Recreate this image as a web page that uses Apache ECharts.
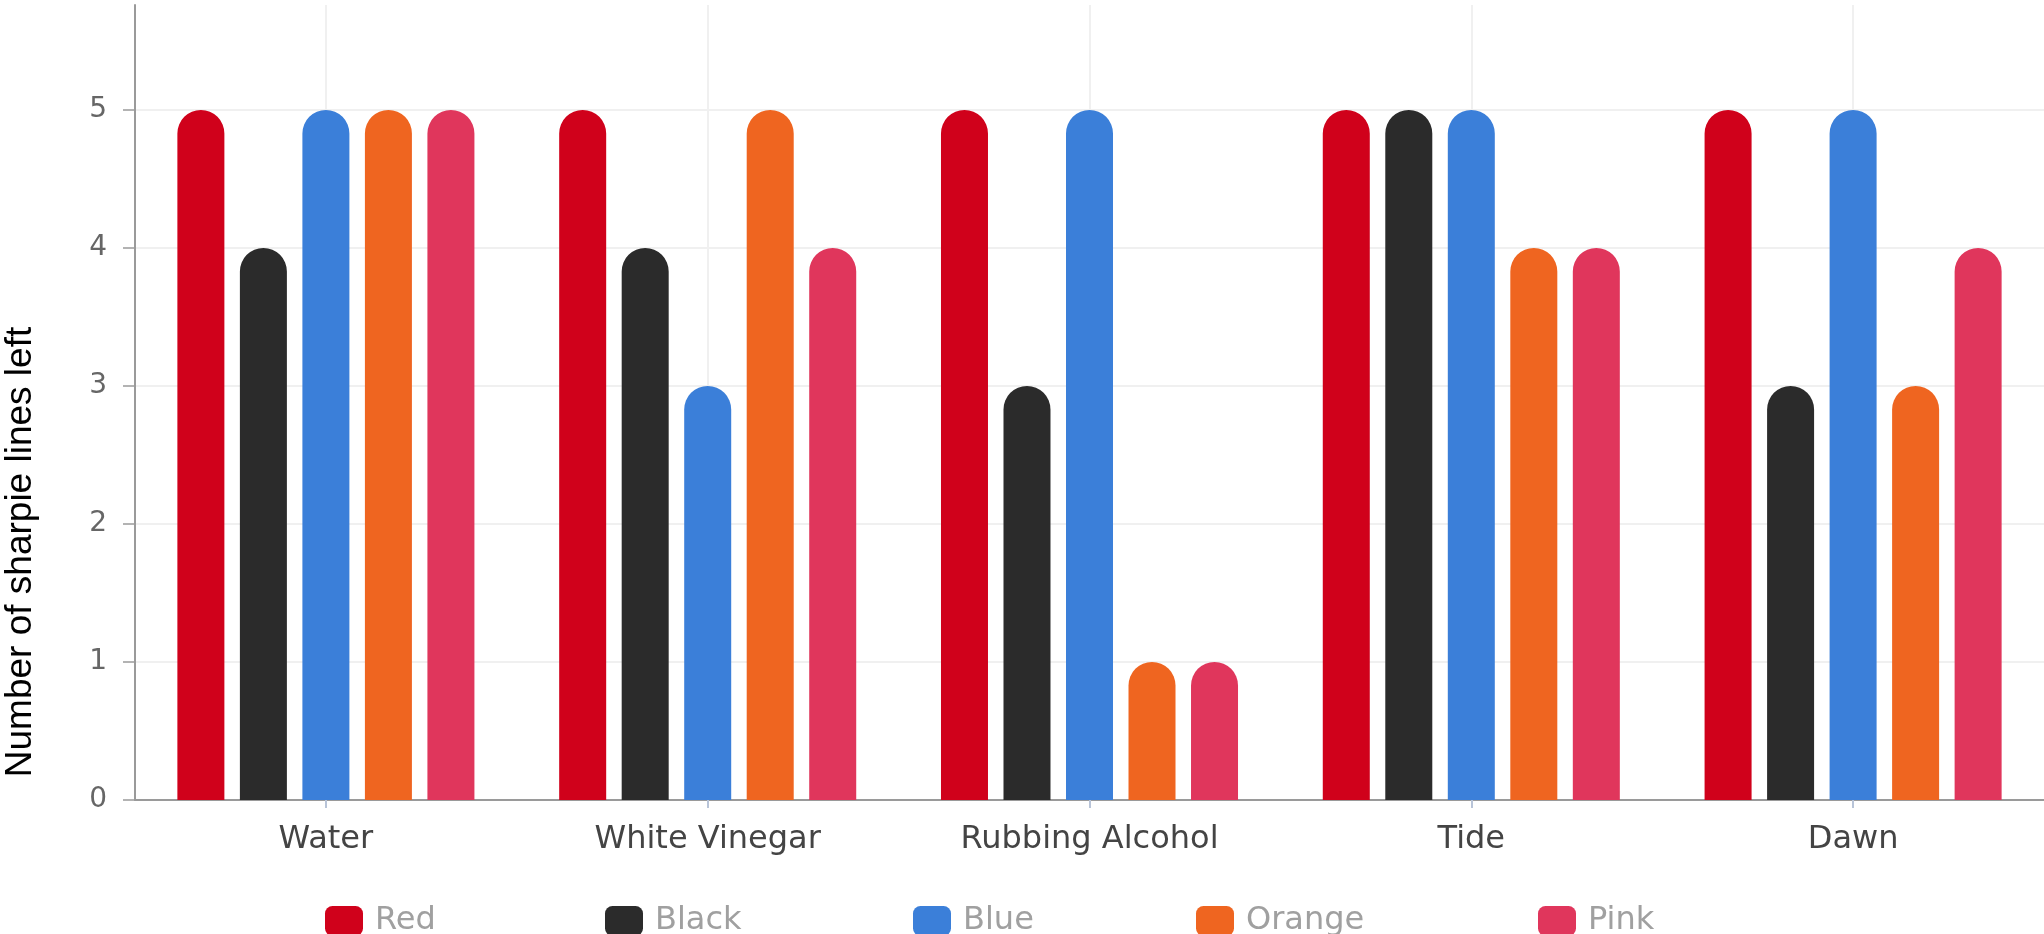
<!DOCTYPE html>
<html>
<head>
<meta charset="utf-8">
<script src="https://cdn.jsdelivr.net/npm/echarts@6/dist/echarts.min.js"></script>
<style>
html,body{margin:0;padding:0;background:#fff;}
#chart{width:2044px;height:934px;}
</style>
</head>
<body>
<div id="chart"></div>
<script>
const categories = ['Water', 'White Vinegar', 'Rubbing Alcohol', 'Tide', 'Dawn'];
const seriesNames = ['Red', 'Black', 'Blue', 'Orange', 'Pink'];
const redValues = [5, 5, 5, 5, 5];
const blackValues = [4, 4, 3, 5, 3];
const blueValues = [5, 3, 5, 5, 5];
const orangeValues = [5, 5, 1, 4, 3];
const pinkValues = [5, 4, 1, 4, 4];
const yTicks = [0, 1, 2, 3, 4, 5];
const yTitle = 'Number of sharpie lines left';

const colors = ['#d0011b', '#2b2b2b', '#3b7fd9', '#ef6520', '#e0365c'];
const allValues = [redValues, blackValues, blueValues, orangeValues, pinkValues];
const legendLefts = [320, 600, 908, 1191, 1533];

const chart = echarts.init(document.getElementById('chart'), null, {renderer: 'canvas'});

const series = seriesNames.map((name, i) => ({
  name: name,
  type: 'bar',
  data: allValues[i],
  barWidth: 47,
  barGap: '33%',
  itemStyle: { color: colors[i], borderRadius: [24, 24, 0, 0] },
  emphasis: { disabled: true }
}));

const legends = seriesNames.map((name, i) => ({
  data: [name],
  left: legendLefts[i],
  top: 900,
  icon: 'roundRect',
  itemWidth: 38,
  itemHeight: 30,
  itemStyle: { borderRadius: 6 },
  selectedMode: false,
  textStyle: { color: '#a0a0a0', fontSize: 32, fontFamily: 'DejaVu Sans', padding: [0, 0, 0, 7] }
}));

chart.setOption({
  animation: false,
  backgroundColor: '#ffffff',
  color: colors,
  grid: { left: 135, right: 0, top: 5, bottom: 134, containLabel: false },
  legend: legends,
  xAxis: {
    type: 'category',
    data: categories,
    axisLine: { show: true, lineStyle: { color: '#9a9a9a', width: 2 } },
    axisTick: { show: true, alignWithLabel: true, length: 8, lineStyle: { color: '#b8c4d8', width: 2 } },
    axisLabel: { color: '#444444', fontSize: 32, fontFamily: 'DejaVu Sans', margin: 24 },
    splitLine: { show: true, alignWithLabel: true, lineStyle: { color: '#f0f0f0', width: 2 } }
  },
  yAxis: {
    type: 'value',
    min: 0,
    max: 5.76,
    interval: 1,
    axisLine: { show: true, lineStyle: { color: '#9a9a9a', width: 2 } },
    axisTick: { show: true, length: 12, lineStyle: { color: '#9a9a9a', width: 1.5 } },
    axisLabel: {
      color: '#666666', fontSize: 28, fontFamily: 'DejaVu Sans', margin: 28,
      showMaxLabel: false,
      formatter: function (v) { return yTicks.indexOf(v) >= 0 ? String(v) : ''; }
    },
    splitLine: { show: true, showMaxLine: false, lineStyle: { color: '#f0f0f0', width: 2 } }
  },
  graphic: [{
    type: 'text',
    x: 21,
    y: 552,
    rotation: Math.PI / 2,
    style: {
      text: yTitle,
      font: '37px "Liberation Sans", Arial, sans-serif',
      fill: '#000000',
      textAlign: 'center',
      textVerticalAlign: 'middle'
    }
  }],
  series: series
});
</script>
</body>
</html>
